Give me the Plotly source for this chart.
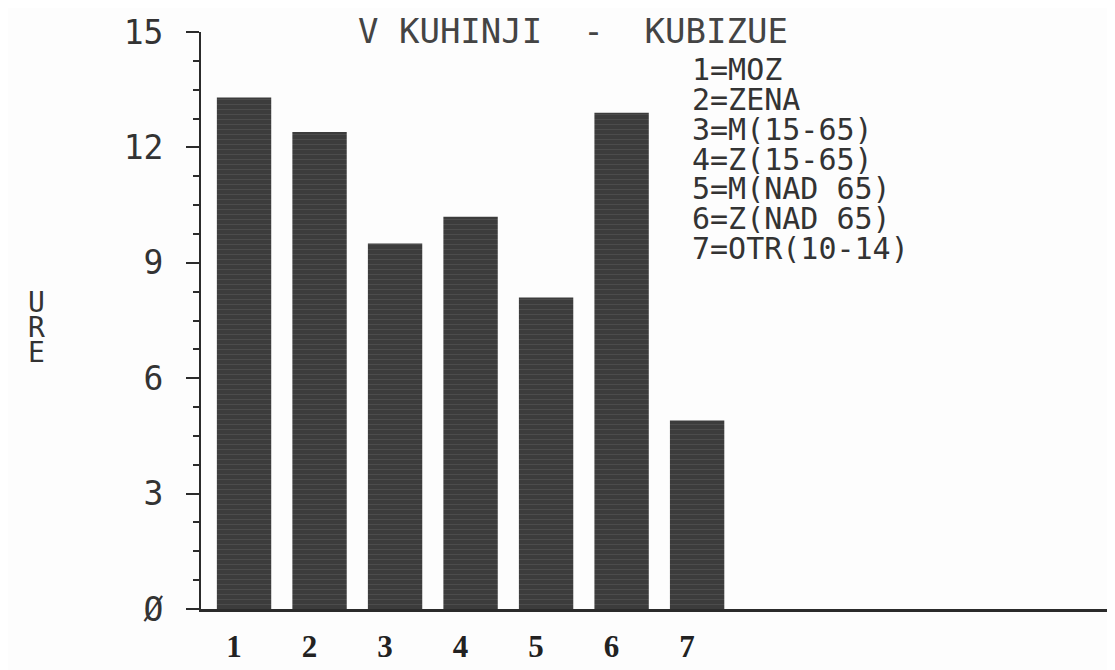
import plotly.graph_objects as go

# bar chart: hours spent (URE) per household group
categories = ["1", "2", "3", "4", "5", "6", "7"]
hours = [13.3, 12.4, 9.5, 10.2, 8.1, 12.9, 4.9]
key_lines = ["1=MOZ", "2=ZENA", "3=M(15-65)", "4=Z(15-65)",
             "5=M(NAD 65)", "6=Z(NAD 65)", "7=OTR(10-14)"]
y_ticks = [0, 3, 6, 9, 12, 15]
y_tick_text = ["\u00d8", "3", "6", "9", "12", "15"]
y_title = ["U", "R", "E"]
title_text = "V KUHINJI  -  KUBIZUE"

mono = "DejaVu Sans Mono"
ink = "#2b2b2b"

L, T, B = 193, 24, 69
plot_w = 1115 - L
plot_h = 670 - T - B

fig = go.Figure()
fig.add_trace(go.Bar(
    x=[int(c) for c in categories], y=hours, width=0.72,
    marker=dict(color="#3c3c3c", line=dict(width=0),
                pattern=dict(shape="-", fgcolor="#5c5c5c", size=5, solidity=0.2)),
    showlegend=False,
))

fig.update_layout(
    width=1115, height=670,
    margin=dict(l=L, r=0, t=T, b=B),
    paper_bgcolor="#fdfdfd", plot_bgcolor="#fdfdfd",
)

fig.update_xaxes(
    range=[0.43, 12.64], tickmode="array",
    tickvals=[int(c) for c in categories], ticktext=categories,
    ticks="", showgrid=False, zeroline=False,
    showline=True, linecolor=ink, linewidth=3,
    tickfont=dict(family="Liberation Serif", size=31, color="#222", weight="bold"),
    ticklabelshift=-10, ticklabelstandoff=8,
)

fig.update_yaxes(
    range=[0, 15], tickmode="array", tickvals=y_ticks, ticktext=y_tick_text,
    ticks="outside", ticklen=13, tickwidth=2, tickcolor=ink,
    minor=dict(dtick=0.75, ticks="outside", ticklen=6, tickwidth=2, tickcolor=ink),
    showgrid=False, zeroline=False,
    showline=True, linecolor=ink, linewidth=2,
    tickfont=dict(family=mono, size=33, color="#333"),
    ticklabelstandoff=16,
)

# stacked axis title, one letter per row
for i, ch in enumerate(y_title):
    fig.add_annotation(
        text=ch, xref="paper", yref="paper",
        x=(28 - L) / plot_w, y=1 - (303 + i * 25 - 33) / plot_h,
        xanchor="center", yanchor="middle", showarrow=False,
        font=dict(family=mono, size=28, color="#333"),
    )

# key text at top right
for i, line in enumerate(key_lines):
    fig.add_annotation(
        text=line, xref="paper", yref="paper",
        x=(682 - L) / plot_w, y=1 - (70 + i * 30.0 - 33) / plot_h,
        xanchor="left", yanchor="middle", showarrow=False,
        font=dict(family=mono, size=30, color="#333"),
    )

fig.add_annotation(
    text=title_text, xref="paper", yref="paper",
    x=(565 - L) / plot_w, y=1 + (T - 1) / plot_h, yanchor="top", xanchor="center",
    showarrow=False, font=dict(family=mono, size=34, color="#444"),
)

fig.write_html("out.html")
